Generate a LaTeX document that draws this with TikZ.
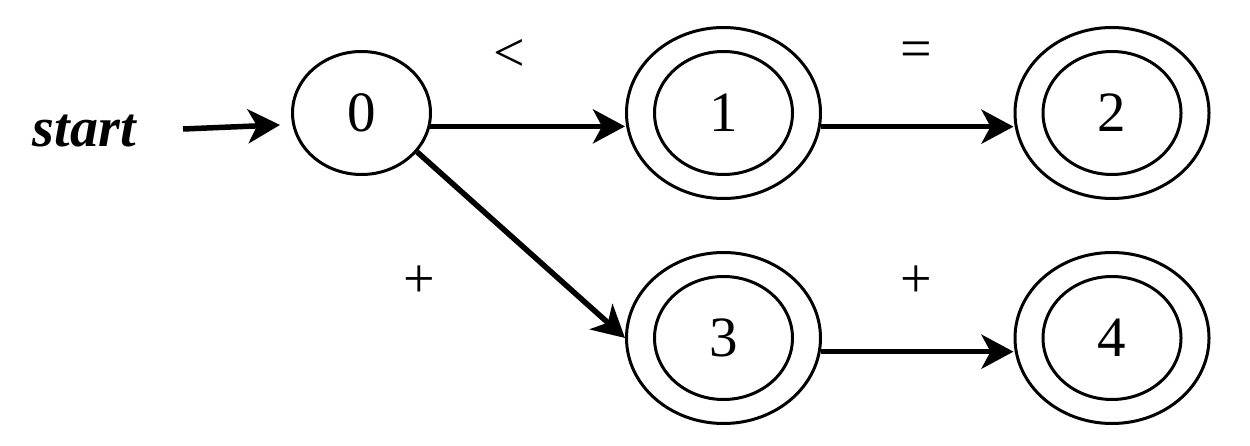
\documentclass[tikz,border=0pt]{standalone}
\usepackage{fontspec}
\setmainfont{Liberation Serif}
\usetikzlibrary{shapes.geometric,arrows.meta}
\tikzset{
  lbl/.style={font=\fontsize{56}{60}\selectfont, inner sep=0pt},
  statebox/.style={ellipse, draw, line width=3pt, minimum width=138pt, minimum height=123pt, inner sep=0pt, font=\fontsize{57}{60}\selectfont},
  outerring/.style={ellipse, draw, line width=3pt, minimum width=194pt, minimum height=171pt, inner sep=0pt},
  arr/.style={line width=5.5pt, -{Stealth[length=32pt, width=34pt, inset=9pt]}}
}
\begin{document}
\begin{tikzpicture}[x=1pt,y=-1pt]
\useasboundingbox (0,0) rectangle (1250,446);
% states
\node[statebox] (n0) at (361.5,113) {0};
\node[outerring] (n1) at (723.5,113) {};
\node[statebox] (n1in) at (n1) {1};
\node[outerring] (n2) at (1112,113) {};
\node[statebox] (n2in) at (n2) {2};
\node[outerring] (n3) at (723.5,338) {};
\node[statebox] (n3in) at (n3) {3};
\node[outerring] (n4) at (1112,338) {};
\node[statebox] (n4in) at (n4) {4};
% start
\node[lbl, anchor=base] (start) at (85,147) {\textbf{\textit{start}}};
\coordinate (s0) at (183,129);
\coordinate (s1) at (291,124.5);
\draw[arr, shorten >=11pt] (s0) -- (s1 -| n0.west);
% transitions
\draw[arr] (n0.-11.5) -- (n0.-11.5 -| n1.west);
\draw[arr] (n1.-8.2) -- (n1.-8.2 -| n2.west);
\draw[arr] (n3.-8.2) -- (n3.-8.2 -| n4.west);
\draw[arr] (n0.-35) -- (n3.west);
% labels
\node[lbl] (l01) at (509,55) {<};
\node[lbl] (l12) at (916,55) {=};
\node[lbl] (l03) at (419,282) {+};
\node[lbl] (l34) at (916,282) {+};
\end{tikzpicture}
\end{document}
